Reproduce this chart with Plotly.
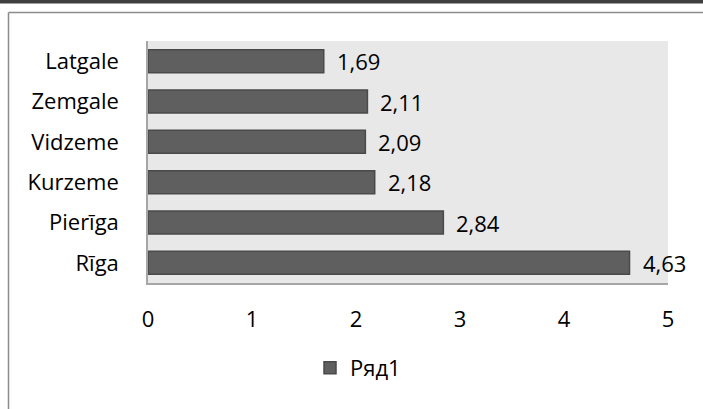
import plotly.graph_objects as go

# Regions, listed bottom-to-top as they appear on the category axis
regions = ["Rīga", "Pierīga", "Kurzeme", "Vidzeme", "Zemgale", "Latgale"]
values = [4.63, 2.84, 2.18, 2.09, 2.11, 1.69]
series_name = "Ряд1"
x_ticks = [0, 1, 2, 3, 4, 5]

FONT = "'Open Sans', 'Noto Sans', sans-serif"
FSIZE = 22

labels = [f"{v:.2f}".replace(".", ",") for v in values]

fig = go.Figure(
    go.Bar(
        x=values,
        y=regions,
        orientation="h",
        name=series_name,
        marker=dict(color="#5f5f5f", line=dict(color="#4a4a4a", width=1.5)),
        showlegend=True,
    )
)

# value labels placed just right of each bar end
annotations = [
    dict(x=v, y=r, xref="x", yref="y", text=t, showarrow=False,
         xanchor="left", yanchor="middle", xshift=11,
         font=dict(family=FONT, size=FSIZE, color="#000000"))
    for v, r, t in zip(values, regions, labels)
]

# plot area occupies pixels x 148..668, y 41..283 of the 703x409 page
L, R, T, B = 148, 35, 41, 126
W, H = 703 - L - R, 409 - T - B


def px(x):
    return (x - L) / W


def py(y):
    return (409 - B - y) / H


shapes = [
    # dark band along the top of the page
    dict(type="rect", xref="paper", yref="paper",
         x0=px(-5), x1=px(710), y0=py(0), y1=py(3.5),
         fillcolor="#3f3f3f", line=dict(width=0), layer="above"),
    # chart frame (top and left edges)
    dict(type="line", xref="paper", yref="paper",
         x0=px(8.5), x1=px(710), y0=py(12.5), y1=py(12.5),
         line=dict(color="#8c8c8c", width=1.5)),
    dict(type="line", xref="paper", yref="paper",
         x0=px(8.5), x1=px(8.5), y0=py(12.5), y1=py(415),
         line=dict(color="#8c8c8c", width=1.5)),
]

fig.update_layout(
    width=703,
    height=409,
    margin=dict(l=L, r=R, t=T, b=B, pad=0),
    paper_bgcolor="#ffffff",
    plot_bgcolor="#e8e8e8",
    bargap=0.43,
    font=dict(family=FONT, size=FSIZE, color="#000000"),
    shapes=shapes,
    annotations=annotations,
    showlegend=True,
    legend=dict(
        orientation="h",
        x=px(310), xanchor="left",
        y=py(368), yanchor="middle",
        font=dict(family=FONT, size=FSIZE, color="#000000"),
        bgcolor="rgba(0,0,0,0)",
        itemwidth=30,
    ),
    xaxis=dict(
        range=[0, 5],
        tickvals=x_ticks,
        ticktext=[str(t) for t in x_ticks],
        showgrid=False,
        zeroline=False,
        showline=True,
        linecolor="#a6a6a6",
        linewidth=1.5,
        ticks="",
        ticklabelstandoff=16,
        tickfont=dict(family=FONT, size=FSIZE, color="#000000"),
        fixedrange=True,
    ),
    yaxis=dict(
        categoryorder="array",
        categoryarray=regions,
        showgrid=False,
        zeroline=False,
        showline=True,
        linecolor="#a6a6a6",
        linewidth=1.5,
        ticks="",
        ticklabelstandoff=23,
        tickfont=dict(family=FONT, size=FSIZE, color="#000000"),
        fixedrange=True,
    ),
)

fig.write_html("out.html")
